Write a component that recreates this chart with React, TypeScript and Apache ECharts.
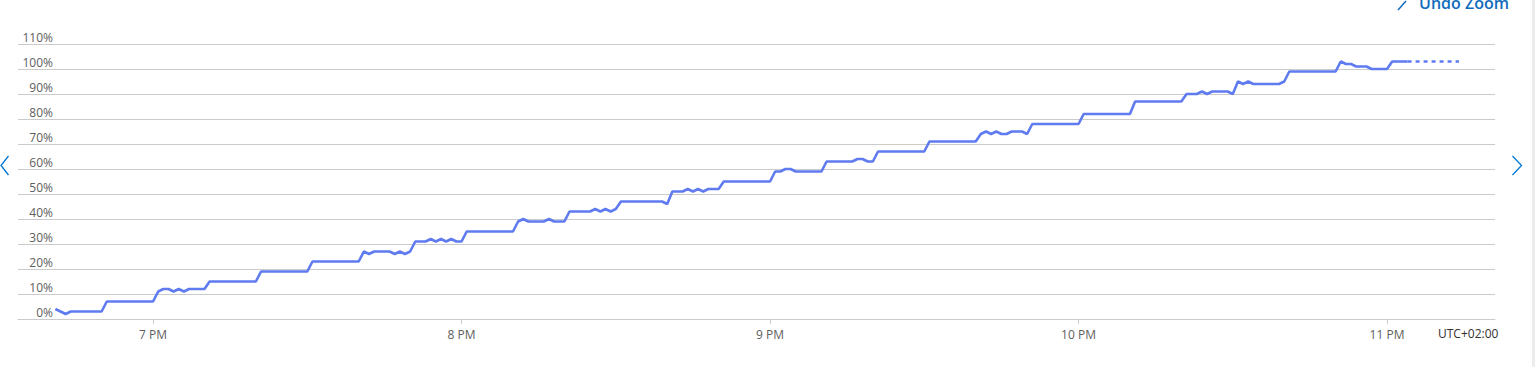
import React, { useEffect, useRef } from "react";
import * as echarts from "echarts";

// Observed series (local time "HH:MM", value in %)
const times = [
  "18:41", "18:42", "18:43", "18:44", "18:50", "18:51", "19:00", "19:01", "19:02", "19:03",
  "19:04", "19:05", "19:06", "19:07", "19:10", "19:11", "19:20", "19:21", "19:30", "19:31",
  "19:40", "19:41", "19:42", "19:43", "19:46", "19:47", "19:48", "19:49", "19:50", "19:51",
  "19:53", "19:54", "19:55", "19:56", "19:57", "19:58", "19:59", "20:00", "20:01", "20:10",
  "20:11", "20:12", "20:13", "20:16", "20:17", "20:18", "20:20", "20:21", "20:25", "20:26",
  "20:27", "20:28", "20:29", "20:30", "20:31", "20:39", "20:40", "20:41", "20:43", "20:44",
  "20:45", "20:46", "20:47", "20:48", "20:50", "20:51", "21:00", "21:01", "21:02", "21:03",
  "21:04", "21:05", "21:10", "21:11", "21:16", "21:17", "21:18", "21:19", "21:20", "21:21",
  "21:30", "21:31", "21:40", "21:41", "21:42", "21:43", "21:44", "21:45", "21:46", "21:47",
  "21:49", "21:50", "21:51", "22:00", "22:01", "22:10", "22:11", "22:20", "22:21", "22:23",
  "22:24", "22:25", "22:26", "22:29", "22:30", "22:31", "22:32", "22:33", "22:34", "22:39",
  "22:40", "22:41", "22:50", "22:51", "22:52", "22:53", "22:54", "22:56", "22:57", "23:00",
  "23:01", "23:04",
];
const values = [
  4, 3, 2, 3, 3, 7, 7, 11, 12, 12,
  11, 12, 11, 12, 12, 15, 15, 19, 19, 23,
  23, 27, 26, 27, 27, 26, 27, 26, 27, 31,
  31, 32, 31, 32, 31, 32, 31, 31, 35, 35,
  39, 40, 39, 39, 40, 39, 39, 43, 43, 44,
  43, 44, 43, 44, 47, 47, 46, 51, 51, 52,
  51, 52, 51, 52, 52, 55, 55, 59, 59, 60,
  60, 59, 59, 63, 63, 64, 64, 63, 63, 67,
  67, 71, 71, 74, 75, 74, 75, 74, 74, 75,
  75, 74, 78, 78, 82, 82, 87, 87, 90, 90,
  91, 90, 91, 91, 90, 95, 94, 95, 94, 94,
  95, 99, 99, 103, 102, 102, 101, 101, 100, 100,
  103, 103,
];

// Projected (dotted) continuation
const projTimes = ["23:04", "23:14"];
const projValues = [103, 103];

// Axis settings
const hourTicks = ["19:00", "20:00", "21:00", "22:00", "23:00"];
const axisStart = "18:33:44";
const axisEnd = "23:21:00";
const yMax = 110;
const yStep = 10;
const timezoneLabel = "UTC+02:00";
const undoLabel = "Undo Zoom";

const FONT = "'Open Sans', 'Noto Sans', sans-serif";
const LINE = "#5f7bef";
const GRID = "#cbcbcb";
const BLUE = "#0f6cbd";

// minutes since midnight
function toMin(s: string): number {
  const [h, m, sec] = s.split(":").map(Number);
  return h * 60 + m + (sec || 0) / 60;
}

function hourLabel(v: number): string {
  const h = Math.round(v / 60) % 24;
  const h12 = h % 12 === 0 ? 12 : h % 12;
  return `${h12} ${h >= 12 ? "PM" : "AM"}`;
}

export default function App() {
  const ref = useRef<HTMLDivElement>(null);

  useEffect(() => {
    if (!ref.current) return;
    const chart = echarts.init(ref.current, undefined, { renderer: "svg" });
    const hourVals = hourTicks.map(toMin);
    const mainData = times.map((t, i) => [toMin(t), values[i]]);
    const projData = projTimes.map((t, i) => [toMin(t), projValues[i]]);

    chart.setOption({
      animation: false,
      grid: { left: 18, right: 40, top: 44, bottom: 48, containLabel: false },
      xAxis: {
        type: "value",
        min: toMin(axisStart),
        max: toMin(axisEnd),
        axisLine: { show: true, onZero: false, lineStyle: { color: GRID, width: 1 } },
        axisTick: {
          show: true,
          length: 5,
          lineStyle: { color: GRID },
          customValues: hourVals,
        },
        axisLabel: {
          customValues: hourVals,
          formatter: (v: number) => hourLabel(v),
          color: "#605e5c",
          fontSize: 12,
          fontFamily: FONT,
          margin: 9,
        },
        splitLine: { show: false },
      },
      yAxis: {
        type: "value",
        min: 0,
        max: yMax,
        interval: yStep,
        axisLine: { show: false },
        axisTick: { show: false },
        axisLabel: {
          formatter: "{value}%",
          align: "right",
          verticalAlign: "bottom",
          margin: -35,
          color: "#605e5c",
          fontSize: 12,
          fontFamily: FONT,
          padding: [0, 0, 1, 0],
        },
        splitLine: { show: true, lineStyle: { color: GRID, width: 1 } },
      },
      series: [
        {
          type: "line",
          data: mainData,
          showSymbol: false,
          symbol: "none",
          lineStyle: { color: LINE, width: 2.6 },
          itemStyle: { color: LINE },
          z: 3,
        },
        {
          type: "line",
          data: projData,
          showSymbol: false,
          symbol: "none",
          lineStyle: { color: LINE, width: 2.6, type: [4, 4] },
          itemStyle: { color: LINE },
          z: 3,
        },
      ],
      graphic: [
        {
          type: "text",
          left: 1438,
          top: 327,
          style: {
            text: timezoneLabel,
            fill: "#323130",
            fontSize: 12,
            fontFamily: FONT,
          },
        },
        {
          type: "text",
          x: 1419,
          y: 11,
          style: {
            text: undoLabel,
            fill: BLUE,
            fontSize: 16,
            fontWeight: 600,
            fontFamily: FONT,
            verticalAlign: "bottom",
          },
        },
        {
          type: "line",
          shape: { x1: 1398, y1: 10, x2: 1406, y2: 1 },
          style: { stroke: BLUE, lineWidth: 1.5 },
        },
        {
          type: "polyline",
          shape: { points: [[8.5, 156], [1, 165.5], [8.5, 175]] },
          style: { stroke: "#0078d4", lineWidth: 1.3, fill: "none" },
        },
        {
          type: "polyline",
          shape: { points: [[1512.5, 156], [1521.5, 165.5], [1512.5, 175]] },
          style: { stroke: "#0078d4", lineWidth: 1.3, fill: "none" },
        },
        {
          type: "rect",
          shape: { x: 1532, y: 0, width: 3, height: 367 },
          style: { fill: "#ececec" },
        },
      ],
    });

    return () => chart.dispose();
  }, []);

  return (
    <div
      ref={ref}
      style={{ position: "fixed", left: 0, top: 0, width: 1535, height: 367, background: "#fff" }}
    />
  );
}
